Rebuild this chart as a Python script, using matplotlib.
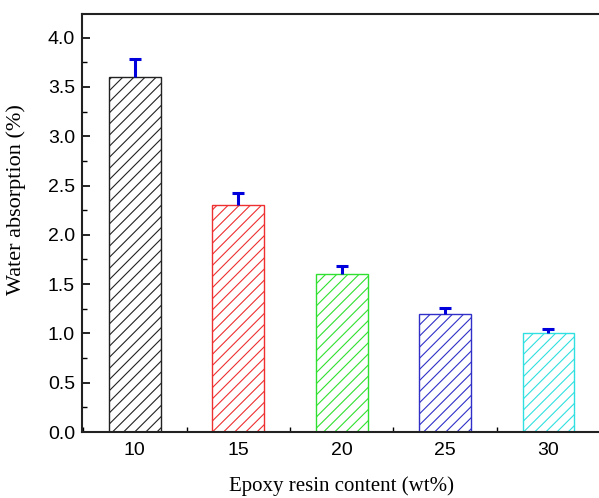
import matplotlib
matplotlib.use("Agg")
import matplotlib.pyplot as plt
from matplotlib.ticker import MultipleLocator, FormatStrFormatter

categories = [10, 15, 20, 25, 30]
values = [3.60, 2.30, 1.60, 1.20, 1.00]
errors = [0.18, 0.12, 0.08, 0.06, 0.04]
colors = ["#222222", "#ee3030", "#30e030", "#3030c8", "#30e0e0"]

plt.rcParams['hatch.linewidth'] = 0.8
fig = plt.figure(figsize=(5.99, 4.98), dpi=100)
ax = fig.add_axes([0.137, 0.1325, 0.865, 0.8395])

for x, v, e, c in zip(categories, values, errors, colors):
    ax.bar(x, v, width=2.5, facecolor="white", edgecolor=c, hatch="///", linewidth=1.0, zorder=2)
    _, caps, _ = ax.errorbar(x, v, yerr=[[0], [e]], fmt="none", ecolor="#0000dd",
                             elinewidth=2.2, capsize=4.5, capthick=2.2, zorder=3)
    if len(caps) == 2:
        caps[0].set_visible(False)

ax.set_xlim(7.45, 32.5)
ax.set_ylim(0, 4.24)
ax.set_xticks(categories)
ax.xaxis.set_minor_locator(MultipleLocator(2.5))
ax.yaxis.set_major_locator(MultipleLocator(0.5))
ax.yaxis.set_minor_locator(MultipleLocator(0.25))
ax.yaxis.set_major_formatter(FormatStrFormatter('%.1f'))
ax.tick_params(which='both', direction='in', top=False, right=False)
ax.tick_params(which='major', length=6, width=1.2, labelsize=14)
ax.tick_params(axis='x', which='major', pad=7)
ax.tick_params(axis='y', which='major', pad=5)
ax.tick_params(which='minor', length=3.5, width=1.0)
for lab in ax.get_xticklabels() + ax.get_yticklabels():
    lab.set_fontfamily("Liberation Sans")
for s in ax.spines.values():
    s.set_linewidth(1.5)
    s.set_color("#222222")

ax.set_xlabel("Epoxy resin content (wt%)", fontfamily="Liberation Serif", fontsize=15)
ax.set_ylabel("Water absorption (%)", fontfamily="Liberation Serif", fontsize=16)
ax.xaxis.set_label_coords(0.5, -0.105)
ax.yaxis.set_label_coords(-0.108, 0.555)

fig.savefig("out.png", dpi=100)
